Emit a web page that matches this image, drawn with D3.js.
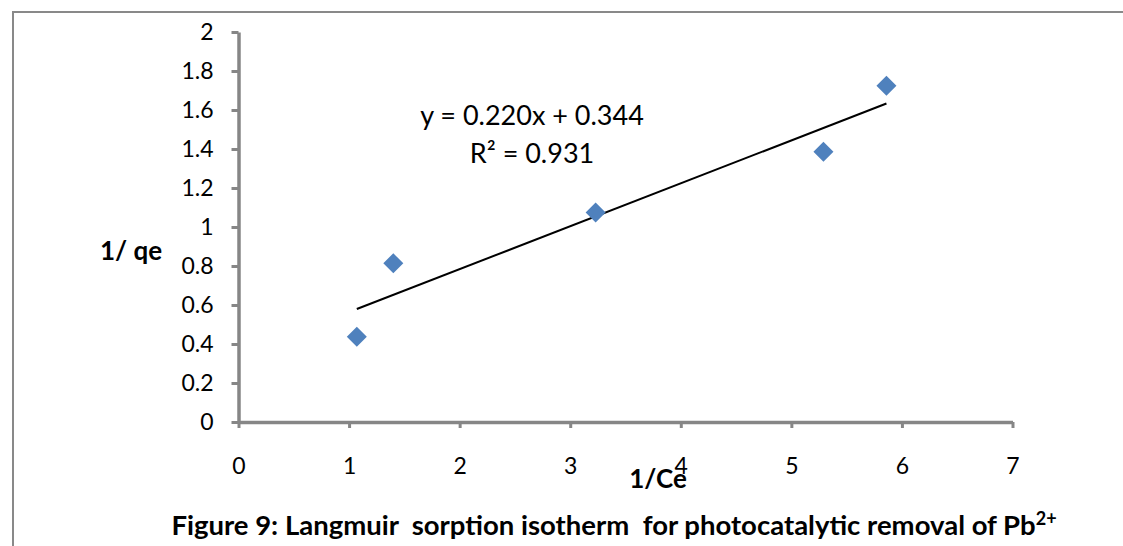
<!DOCTYPE html>
<html>
<head>
<meta charset="utf-8">
<script src="https://cdn.jsdelivr.net/npm/d3@7"></script>
<style>
  body { margin: 0; background: #fff; }
  svg { display: block; font-family: Lato, "Open Sans", sans-serif; }
</style>
</head>
<body>
<svg id="chart" width="1123" height="546"></svg>
<script>
// data: 1/Ce vs 1/qe
const invCe = [1.07, 1.40, 3.23, 5.29, 5.86];
const invQe = [0.437, 0.814, 1.075, 1.386, 1.725];
const xTicks = [0, 1, 2, 3, 4, 5, 6, 7];
const yTicks = [0, 0.2, 0.4, 0.6, 0.8, 1, 1.2, 1.4, 1.6, 1.8, 2];
const slope = 0.220, intercept = 0.344;

const svg = d3.select("#chart");

// outer frame (runs off the right and bottom edge)
svg.append("rect")
  .attr("x", 13).attr("y", 12)
  .attr("width", 1140).attr("height", 560)
  .attr("fill", "none")
  .attr("stroke", "#898989")
  .attr("stroke-width", 2);

const xScale = d3.scaleLinear().domain([0, 7]).range([238.5, 1012.5]);
const yScale = d3.scaleLinear().domain([0, 2]).range([422, 32]);

const gray = "#868686";

const yAxis = svg.append("g")
  .attr("transform", `translate(${xScale(0)},0)`)
  .call(d3.axisLeft(yScale).tickValues(yTicks).tickSize(7).tickSizeOuter(0).tickPadding(18)
    .tickFormat(d => String(+d.toFixed(1))));

const xAxis = svg.append("g")
  .attr("transform", `translate(0,${yScale(0)})`)
  .call(d3.axisBottom(xScale).tickValues(xTicks).tickSize(6).tickSizeOuter(0).tickPadding(30)
    .tickFormat(d => String(d)));

[xAxis, yAxis].forEach(ax => {
  ax.select(".domain").attr("stroke", gray).attr("stroke-width", 3.5);
  ax.selectAll(".tick line").attr("stroke", gray).attr("stroke-width", 3);
  ax.selectAll(".tick text").attr("fill", "#000").style("font-size", "23px").style("font-family", "Lato, 'Open Sans', sans-serif");
});

// trendline
const xMin = d3.min(invCe), xMax = d3.max(invCe);
svg.append("line")
  .attr("x1", xScale(xMin)).attr("y1", yScale(slope * xMin + intercept))
  .attr("x2", xScale(xMax)).attr("y2", yScale(slope * xMax + intercept))
  .attr("stroke", "#000")
  .attr("stroke-width", 2);

// diamonds
svg.selectAll("path.pt")
  .data(invCe.map((x, i) => [x, invQe[i]]))
  .join("path")
  .attr("class", "pt")
  .attr("d", "M0,-10L10,0L0,10L-10,0Z")
  .attr("transform", d => `translate(${xScale(d[0])},${yScale(d[1])})`)
  .attr("fill", "#4F81BD");

// equation
svg.append("text")
  .attr("x", 532).attr("y", 125)
  .attr("text-anchor", "middle")
  .style("font-size", "27px")
  .text("y = 0.220x + 0.344");

svg.append("text")
  .attr("x", 532).attr("y", 163)
  .attr("text-anchor", "middle")
  .style("font-size", "27px")
  .text("R\u00b2 = 0.931");

// axis titles
svg.append("text")
  .attr("x", 131).attr("y", 260)
  .attr("text-anchor", "middle")
  .style("font-size", "26px").style("font-weight", "bold")
  .text("1/ qe");

svg.append("text")
  .attr("x", 658).attr("y", 488)
  .attr("text-anchor", "middle")
  .style("font-size", "26px").style("font-weight", "bold")
  .text("1/Ce");

// caption
const cap = svg.append("text")
  .attr("x", 614).attr("y", 535)
  .attr("text-anchor", "middle")
  .style("font-size", "27.5px").style("font-weight", "bold");
cap.append("tspan").text("Figure 9: Langmuir\u00a0 sorption isotherm\u00a0 for photocatalytic removal of Pb");
cap.append("tspan").attr("dy", -10).style("font-size", "18px").text("2+");
</script>
</body>
</html>
